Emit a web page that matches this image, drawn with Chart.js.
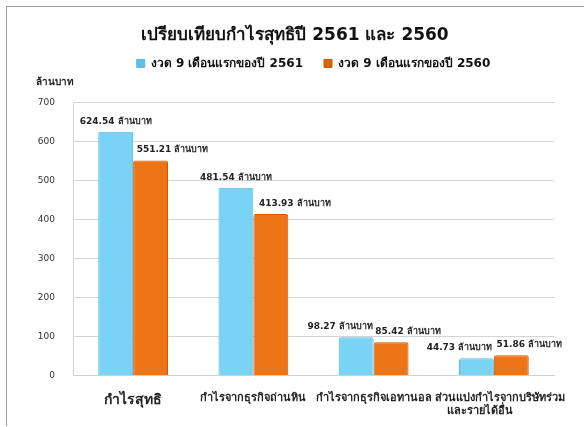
<!DOCTYPE html>
<html>
<head>
<meta charset="utf-8">
<script src="https://cdn.jsdelivr.net/npm/chart.js@4"></script>
<style>
  html, body { margin: 0; padding: 0; background: #fff; overflow: hidden; }
  #frame { position: absolute; left: 6px; top: 6px; width: 640px; height: 419px; border-left: 1px solid #9a9a9a; border-top: 1px solid #9a9a9a; }
  #grafico { position: absolute; left: 0; top: 0; }
</style>
</head>
<body>
<div id="frame"></div>
<canvas id="grafico" width="584" height="427"></canvas>
<script>
// ข้อมูลกราฟ
var categorias = ['กำไรสุทธิ', 'กำไรจากธุรกิจถ่านหิน', 'กำไรจากธุรกิจเอทานอล', ['ส่วนแบ่งกำไรจากบริษัทร่วม', 'และรายได้อื่น']];
var serie2561 = [624.54, 481.54, 98.27, 44.73];
var serie2560 = [551.21, 413.93, 85.42, 51.86];
var legenda = ['งวด 9 เดือนแรกของปี 2561', 'งวด 9 เดือนแรกของปี 2560'];
var ticksY = [0, 100, 200, 300, 400, 500, 600, 700];

var fonte = "Tahoma, 'DejaVu Sans', 'Noto Sans', sans-serif";

function corBarra(escuro, claro) {
  return function(context) {
    var chart = context.chart;
    var el = context.element;
    if (!el || !isFinite(el.x) || !isFinite(el.width) || !el.width) return claro;
    var g = chart.ctx.createLinearGradient(el.x - el.width / 2, 0, el.x + el.width / 2, 0);
    g.addColorStop(0, escuro);
    g.addColorStop(0.25, claro);
    g.addColorStop(0.75, claro);
    g.addColorStop(1, escuro);
    return g;
  };
}

// rótulos em cima das barras
var deslocX = [[0, 0, -16, -17], [22, 24, 17, 18]];
var rotulosPlugin = {
  id: 'rotulos',
  afterDatasetsDraw: function(chart) {
    var ctx = chart.ctx;
    ctx.save();
    ctx.font = 'bold 9px ' + fonte;
    ctx.fillStyle = '#222';
    ctx.textAlign = 'center';
    ctx.textBaseline = 'bottom';
    chart.data.datasets.forEach(function(ds, d) {
      chart.getDatasetMeta(d).data.forEach(function(bar, i) {
        ctx.fillText(ds.data[i].toFixed(2) + ' ล้านบาท', bar.x + deslocX[d][i], bar.y - 6);
      });
    });
    ctx.restore();
  }
};

// último rótulo: deslocado para a direita e alinhado à esquerda
function rotuloX(value, index) {
  var lbl = this.getLabelForValue(value);
  if (Array.isArray(lbl)) {
    return ['   ' + lbl[0], lbl[1] + '       '];
  }
  return lbl;
}

var ctx = document.getElementById('grafico').getContext('2d');
var chart = new Chart(ctx, {
  type: 'bar',
  data: {
    labels: categorias,
    datasets: [{
      label: legenda[0],
      data: serie2561,
      backgroundColor: corBarra('#5cc0e8', '#79d3f5'),
      borderColor: '#5bb8dc',
      borderWidth: 1,
      borderRadius: 2
    }, {
      label: legenda[1],
      data: serie2560,
      backgroundColor: corBarra('#d9620a', '#ee7516'),
      borderColor: '#c85a08',
      borderWidth: 1,
      borderRadius: 2
    }]
  },
  options: {
    responsive: false,
    animation: false,
    layout: { padding: { left: 36, right: 30, top: 14, bottom: 1 } },
    datasets: { bar: { barPercentage: 1, categoryPercentage: 0.58 } },
    plugins: {
      title: {
        display: true,
        text: 'เปรียบเทียบกำไรสุทธิปี 2561 และ 2560',
        color: '#111',
        font: { family: fonte, size: 17, weight: 'bold' },
        padding: { top: 11, bottom: -9 }
      },
      legend: {
        fullSize: false,
        labels: {
          color: '#111',
          font: { family: fonte, size: 12, weight: 'bold' },
          boxWidth: 8, boxHeight: 8,
          padding: 21
        }
      },
      subtitle: {
        display: true,
        text: 'ล้านบาท',
        align: 'start',
        weight: 500,
        color: '#222',
        font: { family: fonte, size: 10, weight: 'bold' },
        padding: { top: -3, bottom: 14 }
      },
      tooltip: { enabled: false }
    },
    scales: {
      x: {
        grid: { display: false },
        border: { color: '#d0d0d0' },
        afterFit: function(axis) { axis.paddingRight = 0; axis.paddingLeft = 0; },
        ticks: {
          color: '#222',
          padding: 8,
          maxRotation: 0,
          autoSkip: false,
          callback: rotuloX,
          font: function(c) {
            return c.index === 0 ? { family: fonte, size: 14, weight: 'bold' } : { family: fonte, size: 11, weight: 'bold' };
          }
        }
      },
      y: {
        min: 0, max: 700,
        afterBuildTicks: function(axis) { axis.ticks = ticksY.map(function(v) { return { value: v }; }); },
        afterFit: function(axis) { axis.width = 37; },
        grid: { color: '#d4d4d4', drawTicks: false },
        border: { color: '#d4d4d4' },
        ticks: { color: '#333', padding: 18, font: { family: fonte, size: 9 } }
      }
    }
  },
  plugins: [rotulosPlugin]
});
</script>
</body>
</html>
